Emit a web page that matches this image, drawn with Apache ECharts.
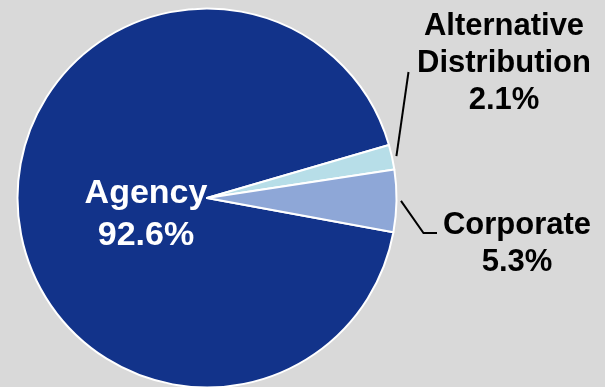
<!DOCTYPE html>
<html>
<head>
<meta charset="utf-8">
<script src="https://cdn.jsdelivr.net/npm/echarts@6/dist/echarts.min.js"></script>
<style>
  html, body { margin: 0; padding: 0; background: #d9d9d9; }
  #chart { width: 605px; height: 387px; }
</style>
</head>
<body>
<div id="chart"></div>
<script>
// Distribution channel shares (%)
const categories = ['Agency', 'Alternative\nDistribution', 'Corporate'];
const shares = [92.6, 2.1, 5.3];
const sliceColors = ['#12338A', '#B7DEE8', '#8EA7D7'];

// Pie geometry
const CX = 207, CY = 198, R = 189.5;
const START_ANGLE = 349.6;

// Where each label block is centred, and the bend/end points of its guide line
const labelCenters = [[146, 215], [504, 63.5], [517, 244]];
const guideTails = [null, [[408.5, 72]], [[423.5, 233], [437, 233]]];

// Mid angle (degrees, counter-clockwise from 3 o'clock) of each slice
function midAngle(i) {
  const total = shares.reduce((a, b) => a + b, 0);
  let before = 0;
  for (let k = 0; k < i; k++) before += shares[k];
  return START_ANGLE - (before + shares[i] / 2) / total * 360;
}

const chart = echarts.init(document.getElementById('chart'), null, { renderer: 'canvas' });

const data = categories.map((name, i) => {
  const inside = i === 0;
  return {
    name: name,
    value: shares[i],
    itemStyle: { color: sliceColors[i] },
    label: {
      position: inside ? 'inside' : 'outside',
      color: inside ? '#ffffff' : '#000000',
      fontSize: inside ? 34 : 31,
      lineHeight: inside ? 42 : 37
    },
    labelLine: { show: !inside }
  };
});

chart.setOption({
  backgroundColor: '#d9d9d9',
  animation: false,
  series: [{
    type: 'pie',
    center: [CX, CY],
    radius: [0, R],
    startAngle: START_ANGLE,
    clockwise: true,
    avoidLabelOverlap: false,
    itemStyle: { borderColor: '#ffffff', borderWidth: 2 },
    label: {
      show: true,
      fontFamily: 'Liberation Sans, Arial, sans-serif',
      fontWeight: 'bold',
      align: 'center',
      formatter: p => p.name + '\n' + p.value.toFixed(1) + '%'
    },
    labelLine: {
      show: true,
      lineStyle: { color: '#000000', width: 2 }
    },
    emphasis: { disabled: true },
    data: data,
    labelLayout: function (params) {
      const i = params.dataIndex;
      const c = labelCenters[i];
      const out = { x: c[0], y: c[1], align: 'center', verticalAlign: 'middle', hideOverlap: false };
      if (guideTails[i]) {
        const a = midAngle(i) * Math.PI / 180;
        const r = R + 4.5;
        const start = [CX + r * Math.cos(a), CY - r * Math.sin(a)];
        out.labelLinePoints = [start].concat(guideTails[i]);
      }
      return out;
    }
  }]
});
</script>
</body>
</html>
